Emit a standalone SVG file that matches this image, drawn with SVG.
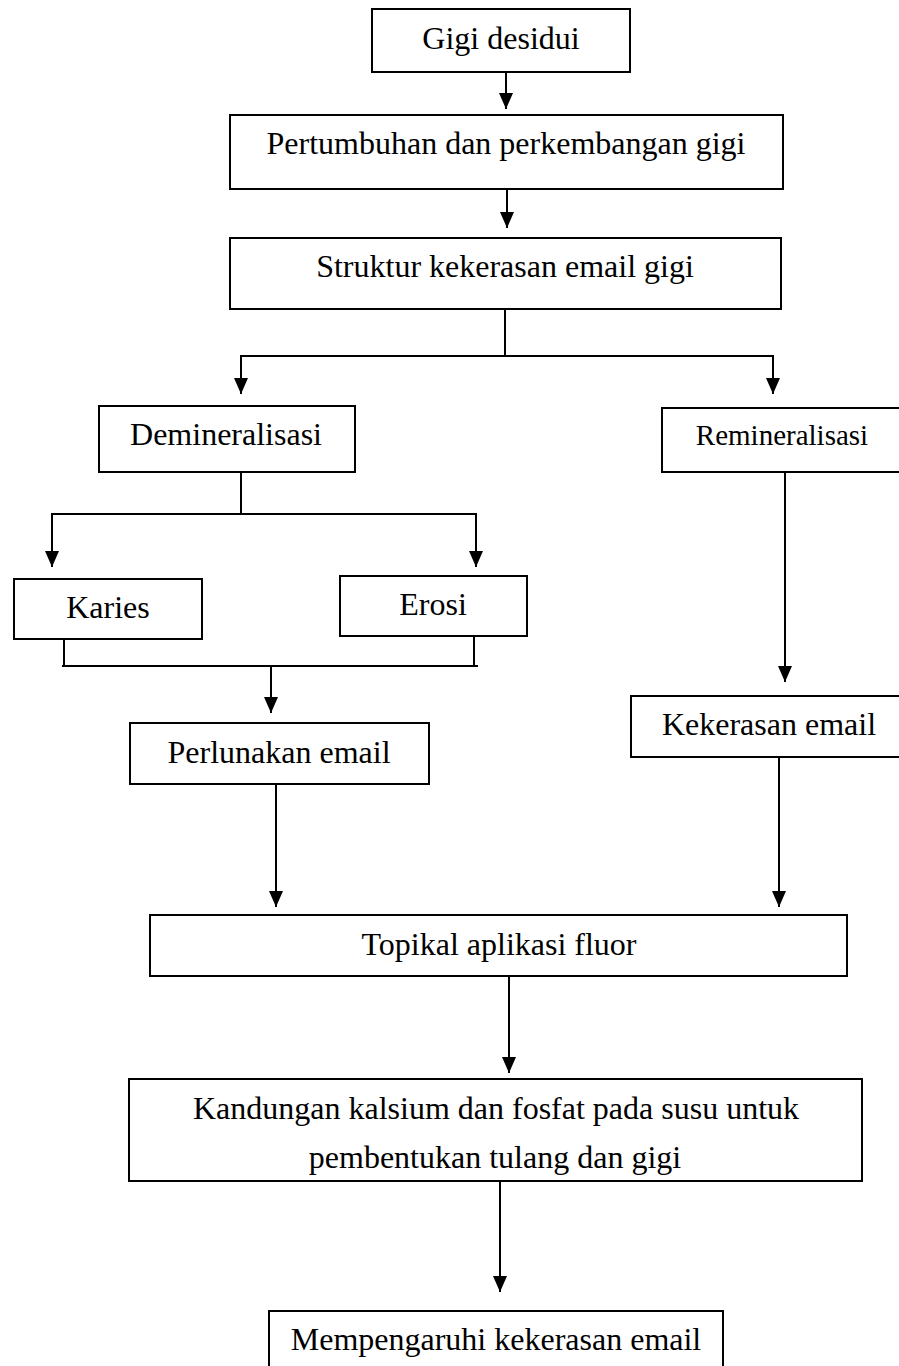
<svg xmlns="http://www.w3.org/2000/svg" width="899" height="1366" viewBox="0 0 899 1366">
<style>
.box{fill:#fff;stroke:#000;stroke-width:2}
.t{font-family:"Liberation Serif","Times New Roman",serif;font-size:32px;fill:#000;text-anchor:middle}
.ln{fill:none;stroke:#000;stroke-width:2}
.ar{fill:none;stroke:#000;stroke-width:2;marker-end:url(#ah)}
</style>
<defs>
<marker id="ah" markerUnits="userSpaceOnUse" markerWidth="16" markerHeight="14" refX="16" refY="7" orient="auto" viewBox="0 0 16 14">
<path d="M0,0 L16,7 L0,14 z" fill="#000"/>
</marker>
</defs>
<rect width="899" height="1366" fill="#fff"/>
<g id="connectors">
<line class="ar" x1="506" y1="72" x2="506" y2="109"/>
<line class="ar" x1="507" y1="189" x2="507" y2="228"/>
<line class="ln" x1="505" y1="309" x2="505" y2="356"/>
<line class="ln" x1="240" y1="356" x2="774" y2="356"/>
<line class="ar" x1="241" y1="356" x2="241" y2="394"/>
<line class="ar" x1="773" y1="356" x2="773" y2="394"/>
<line class="ln" x1="241" y1="472" x2="241" y2="514"/>
<line class="ln" x1="51" y1="514" x2="477" y2="514"/>
<line class="ar" x1="52" y1="514" x2="52" y2="567"/>
<line class="ar" x1="476" y1="514" x2="476" y2="567"/>
<line class="ln" x1="64" y1="639" x2="64" y2="666"/>
<line class="ln" x1="474" y1="636" x2="474" y2="666"/>
<line class="ln" x1="62" y1="666" x2="478" y2="666"/>
<line class="ar" x1="271" y1="666" x2="271" y2="713"/>
<line class="ar" x1="785" y1="472" x2="785" y2="682"/>
<line class="ar" x1="276" y1="784" x2="276" y2="907"/>
<line class="ar" x1="779" y1="757" x2="779" y2="907"/>
<line class="ar" x1="509" y1="976" x2="509" y2="1073"/>
<line class="ar" x1="500" y1="1181" x2="500" y2="1292"/>
</g>
<g id="n1"><rect class="box" x="372" y="9" width="258" height="63"/><text class="t" x="501" y="49">Gigi desidui</text></g>
<g id="n2"><rect class="box" x="230" y="115" width="553" height="74"/><text class="t" x="506" y="154">Pertumbuhan dan perkembangan gigi</text></g>
<g id="n3"><rect class="box" x="230" y="238" width="551" height="71"/><text class="t" x="505" y="277">Struktur kekerasan email gigi</text></g>
<g id="n4"><rect class="box" x="99" y="406" width="256" height="66"/><text class="t" x="226" y="445">Demineralisasi</text></g>
<g id="n5"><rect class="box" x="662" y="408" width="260" height="64"/><text class="t" x="782" y="445" style="font-size:29px">Remineralisasi</text></g>
<g id="n6"><rect class="box" x="14" y="579" width="188" height="60"/><text class="t" x="108" y="618">Karies</text></g>
<g id="n7"><rect class="box" x="340" y="576" width="187" height="60"/><text class="t" x="433" y="615">Erosi</text></g>
<g id="n8"><rect class="box" x="130" y="723" width="299" height="61"/><text class="t" x="279" y="763">Perlunakan email</text></g>
<g id="n9"><rect class="box" x="631" y="696" width="290" height="61"/><text class="t" x="769" y="735">Kekerasan email</text></g>
<g id="n10"><rect class="box" x="150" y="915" width="697" height="61"/><text class="t" x="499" y="955">Topikal aplikasi fluor</text></g>
<g id="n11"><rect class="box" x="129" y="1079" width="733" height="102"/><text class="t" x="496" y="1119">Kandungan kalsium dan fosfat pada susu untuk</text><text class="t" x="495" y="1168">pembentukan tulang dan gigi</text></g>
<g id="n12"><rect class="box" x="269" y="1311" width="454" height="80"/><text class="t" x="496" y="1350">Mempengaruhi kekerasan email</text></g>
</svg>
